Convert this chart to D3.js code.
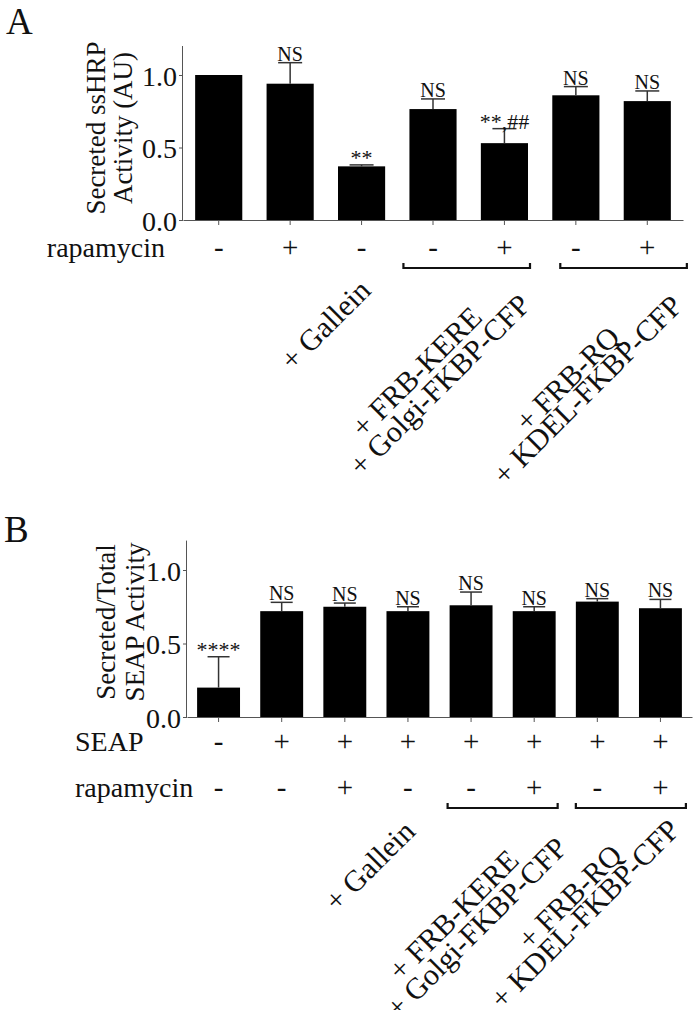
<!DOCTYPE html>
<html>
<head>
<meta charset="utf-8">
<script src="https://cdn.jsdelivr.net/npm/d3@7"></script>
<style>
  body { margin: 0; background: #fff; }
  svg text { font-family: "Liberation Serif", "Times New Roman", serif; fill: #111; }
</style>
</head>
<body>
<svg id="chart" width="693" height="1010"></svg>
<script>
// ---- panel A data ----
const aValues = [1.00, 0.94, 0.37, 0.765, 0.53, 0.86, 0.82];
const aErrors = [0, 0.145, 0.01, 0.07, 0.10, 0.06, 0.07];
const aSig = ['', 'NS', '**', 'NS', '**,##', 'NS', 'NS'];
const aRapamycin = ['-', '+', '-', '-', '+', '-', '+'];
const aTitle = ['Secreted ssHRP', 'Activity (AU)'];

// ---- panel B data ----
const bValues = [0.20, 0.72, 0.75, 0.72, 0.76, 0.72, 0.785, 0.74];
const bErrors = [0.21, 0.06, 0.025, 0.03, 0.09, 0.03, 0.02, 0.06];
const bSig = ['****', 'NS', 'NS', 'NS', 'NS', 'NS', 'NS', 'NS'];
const bSeap = ['-', '+', '+', '+', '+', '+', '+', '+'];
const bRapamycin = ['-', '-', '+', '-', '-', '+', '-', '+'];
const bTitle = ['Secreted/Total', 'SEAP Activity'];

const yTicks = [0, 0.5, 1.0];
const gallein = '+ Gallein';
const golgiLabels = ['+ FRB-KERE', '+ Golgi-FKBP-CFP'];
const kdelLabels = ['+ FRB-RQ', '+ KDEL-FKBP-CFP'];

const svg = d3.select('#chart');
const axisColor = '#555';

svg.append('text').attr('x', 6).attr('y', 34).attr('font-size', 37).text('A');
svg.append('text').attr('x', 4).attr('y', 542).attr('font-size', 37).text('B');

function drawPanel(p) {
  const n = p.values.length;
  const x = d3.scaleBand()
    .domain(d3.range(n))
    .range([p.x0, p.x1])
    .paddingInner(p.pad)
    .paddingOuter(p.pad / 2);
  const y = d3.scaleLinear().domain([0, 1.2]).range([p.y0, p.y0 - 1.2 * p.unit]);
  const cx = i => x(i) + x.bandwidth() / 2;
  const g = svg.append('g');

  // bars
  g.selectAll('.bar')
    .data(p.values)
    .enter()
    .append('rect')
    .attr('x', (d, i) => x(i))
    .attr('y', d => y(d))
    .attr('width', x.bandwidth())
    .attr('height', d => y(0) - y(d))
    .attr('fill', '#000');

  // error bars (upper only)
  p.values.forEach((v, i) => {
    const e = p.errors[i];
    if (e <= 0) return;
    g.append('line')
      .attr('x1', cx(i)).attr('x2', cx(i))
      .attr('y1', y(v)).attr('y2', y(v + e))
      .attr('stroke', '#333').attr('stroke-width', 1.5);
    g.append('line')
      .attr('x1', cx(i) - p.cap).attr('x2', cx(i) + p.cap)
      .attr('y1', y(v + e)).attr('y2', y(v + e))
      .attr('stroke', '#333').attr('stroke-width', 1.5);
  });

  // significance marks
  g.selectAll('.sig')
    .data(p.sig)
    .enter()
    .append('text')
    .attr('x', (d, i) => cx(i))
    .attr('y', (d, i) => y(p.values[i] + p.errors[i]) - (d.startsWith('*') ? 0 : 2))
    .attr('text-anchor', 'middle')
    .attr('font-size', d => d.startsWith('*') ? 22 : 20)
    .text(d => d);

  // y axis
  const yAxis = d3.axisLeft(y).tickValues(yTicks).tickFormat(d3.format('.1f'))
    .tickSize(4).tickPadding(2);
  const ya = g.append('g').attr('transform', `translate(${p.x0},0)`).call(yAxis);
  ya.select('.domain').attr('stroke', axisColor).attr('d', `M-0.5,${p.y0}V${y(1.2)}`);
  ya.selectAll('.tick line').attr('stroke', axisColor);
  ya.selectAll('.tick text')
    .attr('font-size', 28)
    .attr('font-family', '"Liberation Serif", serif')
    .attr('fill', '#111')
    .attr('dy', '0.36em');

  // x axis
  const xAxis = d3.axisBottom(x).tickFormat('').tickSize(5).tickSizeOuter(0);
  const xa = g.append('g').attr('transform', `translate(0,${p.y0})`).call(xAxis);
  xa.select('.domain').attr('stroke', axisColor);
  xa.selectAll('.tick line').attr('stroke', axisColor);

  // y title
  p.title.forEach((t, k) => {
    g.append('text')
      .attr('transform', `translate(${p.titleX[k]},${p.titleY}) rotate(-90)`)
      .attr('text-anchor', 'middle')
      .attr('font-size', 27)
      .text(t);
  });

  // +/- rows
  p.rows.forEach(row => {
    g.append('text')
      .attr('x', row.labelX)
      .attr('y', row.y)
      .attr('text-anchor', row.anchor)
      .attr('font-size', 28)
      .text(row.name);
    g.selectAll(null)
      .data(row.signs)
      .enter()
      .append('text')
      .attr('x', (d, i) => cx(i))
      .attr('y', row.y)
      .attr('text-anchor', 'middle')
      .attr('font-size', 29)
      .text(d => d);
  });

  // brackets
  p.brackets.forEach(b => {
    const x1 = x(b.from) - b.ext + b.shift;
    const x2 = x(b.to) + x.bandwidth() + b.ext + b.shift;
    g.append('path')
      .attr('d', `M${x1},${p.bracketY - 5}V${p.bracketY}H${x2}V${p.bracketY - 5}`)
      .attr('fill', 'none')
      .attr('stroke', '#111')
      .attr('stroke-width', 2.2);
  });

  // rotated condition labels
  p.labels.forEach(l => {
    const px = (cx(l.from) + cx(l.to)) / 2 + l.dx;
    const py = p.bracketY + l.dy;
    g.append('text')
      .attr('transform', `translate(${px},${py}) rotate(-45)`)
      .attr('text-anchor', 'middle')
      .attr('font-size', 30)
      .text(l.text);
  });
}

drawPanel({
  values: aValues, errors: aErrors, sig: aSig, title: aTitle,
  x0: 183, x1: 683, y0: 220, unit: 145, pad: 0.34, cap: 12,
  titleX: [105, 132], titleY: 128,
  rows: [{ name: 'rapamycin', signs: aRapamycin, y: 257, labelX: 165, anchor: 'end' }],
  bracketY: 268,
  brackets: [{ from: 3, to: 4, ext: 4, shift: -2 }, { from: 5, to: 6, ext: 4, shift: 12 }],
  labels: [
    { text: gallein, from: 2, to: 2, dx: -29, dy: 64 },
    { text: golgiLabels[0], from: 3, to: 4, dx: -45, dy: 111 },
    { text: golgiLabels[1], from: 3, to: 4, dx: -22, dy: 124 },
    { text: kdelLabels[0], from: 5, to: 6, dx: -37, dy: 118 },
    { text: kdelLabels[1], from: 5, to: 6, dx: -17, dy: 129 }
  ]
});

drawPanel({
  values: bValues, errors: bErrors, sig: bSig, title: bTitle,
  x0: 187, x1: 692, y0: 717, unit: 147, pad: 0.32, cap: 11,
  titleX: [115, 144], titleY: 622,
  rows: [
    { name: 'SEAP', signs: bSeap, y: 751, labelX: 75, anchor: 'start' },
    { name: 'rapamycin', signs: bRapamycin, y: 797, labelX: 75, anchor: 'start' }
  ],
  bracketY: 808,
  brackets: [{ from: 4, to: 5, ext: 2, shift: 0 }, { from: 6, to: 7, ext: 2, shift: 2 }],
  labels: [
    { text: gallein, from: 3, to: 3, dx: -31, dy: 65 },
    { text: golgiLabels[0], from: 4, to: 5, dx: -42, dy: 114 },
    { text: golgiLabels[1], from: 4, to: 5, dx: -19, dy: 127 },
    { text: kdelLabels[0], from: 6, to: 7, dx: -52, dy: 96 },
    { text: kdelLabels[1], from: 6, to: 7, dx: -37, dy: 113 }
  ]
});
</script>
</body>
</html>
